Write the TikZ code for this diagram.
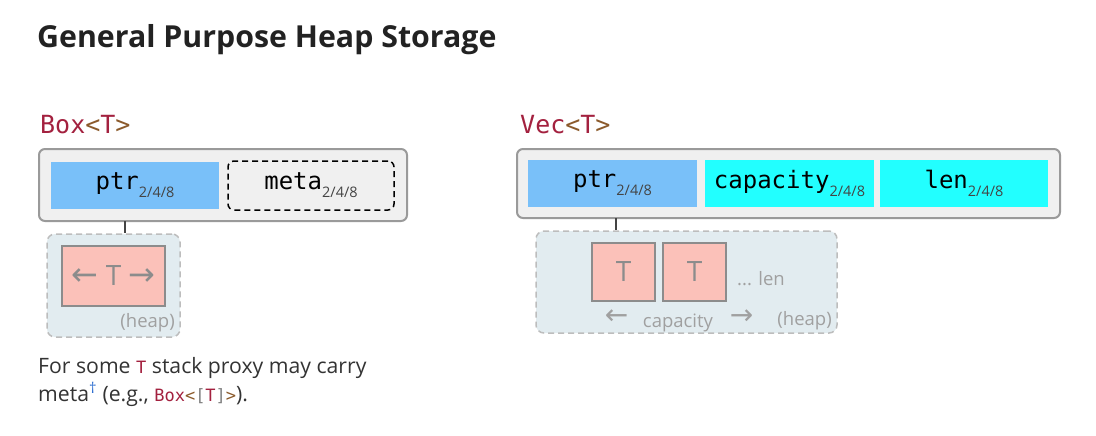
\documentclass[tikz,border=0pt]{standalone}
\usepackage{fontspec}
\setmainfont{Open Sans}
\setmonofont{DejaVu Sans Mono}
\newfontfamily\arrowfont{DejaVu Sans}
\usepackage{tikz}
\usetikzlibrary{positioning}
\definecolor{typered}{HTML}{A3213F}
\definecolor{typebrown}{HTML}{8B5A2B}
\definecolor{framegray}{HTML}{9A9A9A}
\definecolor{cellgray}{HTML}{F0F0F0}
\definecolor{ptrblue}{HTML}{79C0F9}
\definecolor{intcyan}{HTML}{22FFFF}
\definecolor{heapfill}{HTML}{E2ECF0}
\definecolor{heapedge}{HTML}{BDBDBD}
\definecolor{elemfill}{HTML}{FBC1B9}
\definecolor{elemedge}{HTML}{8C8C8C}
\definecolor{notegray}{HTML}{A0A0A0}
\definecolor{subgray}{HTML}{444444}
\definecolor{bodygray}{HTML}{333333}
\definecolor{titlegray}{HTML}{222222}
\definecolor{daggerblue}{HTML}{2F6FD0}
\newcommand{\fieldlabel}[1]{{\fontsize{24}{24}\selectfont\ttfamily #1}\raisebox{-8pt}{\fontsize{14.5}{14.5}\selectfont\color{subgray}2/4/8}}
\newcommand{\typename}[1]{{\fontsize{25}{25}\selectfont\ttfamily\color{typered}#1\color{typebrown}<\color{typered}T\color{typebrown}>}}

\begin{document}
\begin{tikzpicture}[x=1pt,y=1pt,yscale=-1,xscale=1,
  outerbox/.style={draw=framegray,line width=2pt,fill=cellgray,rounded corners=6pt,inner sep=0pt},
  ptrcell/.style={fill=ptrblue,inner sep=0pt,minimum height=47pt},
  intcell/.style={fill=intcyan,inner sep=0pt,minimum height=47pt},
  heapbox/.style={draw=heapedge,dash pattern=on 6pt off 4pt,line width=1.5pt,fill=heapfill,rounded corners=8pt,inner sep=0pt},
  elembox/.style={draw=elemedge,line width=2pt,fill=elemfill,inner sep=0pt,text=elemedge,font=\fontsize{28}{28}\selectfont},
  heapnote/.style={text=notegray,font=\fontsize{18.5}{18.5}\selectfont,inner sep=0pt},
  link/.style={draw=subgray,line width=1.2pt}]
  \useasboundingbox (0,0) rectangle (1096,436);

  % Title
  \node[anchor=base west,inner sep=0pt,text=titlegray] (title) at (37,48) {\fontsize{30.3}{30.3}\selectfont\bfseries General Purpose Heap Storage};

  %Box<T>
  \node[anchor=base west,inner sep=0pt] (boxname) at (40,133) {\typename{Box}};
  \node[outerbox,minimum width=368pt,minimum height=72pt] (boxouter) at (223,185) {};
  \node[ptrcell,minimum width=168pt] (boxptr) at (135,185) {\fieldlabel{ptr}};
  \node[draw=black,dash pattern=on 6pt off 4pt,line width=1.5pt,rounded corners=6pt,minimum width=166pt,minimum height=49pt,inner sep=0pt] (boxmeta) at (311,185.5) {\fieldlabel{meta}};
  % heap of Box
  \node[heapbox,minimum width=133pt,minimum height=103pt] (boxheap) at (113.5,285.5) {};
  \node[elembox,minimum width=103pt,minimum height=60pt] (boxelem) at (113.5,276) {{\arrowfont\fontsize{32}{32}\selectfont ←}\hspace{7pt}T\hspace{7pt}{\arrowfont\fontsize{32}{32}\selectfont →}};
  \node[heapnote,anchor=base east] (boxnote) at (175,327) {(heap)};
  \coordinate (boxlink) at (125,221);
  \draw[link] (boxlink) -- (boxlink |- boxheap.north);

  % footnote text
  \node[anchor=base west,inner sep=0pt,text=bodygray,font=\fontsize{21.2}{21.2}\selectfont] (boxtext1) at (38,373) {For some {\ttfamily\fontsize{17}{17}\selectfont\color{typered}T} stack proxy may carry};
  \node[anchor=base west,inner sep=0pt,text=bodygray,font=\fontsize{21.2}{21.2}\selectfont] (boxtext2) at (38,401) {meta\textsuperscript{\color{daggerblue}†} (e.g., {\ttfamily\fontsize{17}{17}\selectfont\color{typered}Box\color{typebrown}<\color{gray}[\color{typered}T\color{gray}]\color{typebrown}>}).};

  %Vec<T>
  \node[anchor=base west,inner sep=0pt] (vecname) at (520,133) {\typename{Vec}};
  \node[outerbox,minimum width=543pt,minimum height=69pt] (vecouter) at (788.5,183.5) {};
  \node[ptrcell,minimum width=169pt] (vecptr) at (612.5,183.5) {\fieldlabel{ptr}};
  \node[intcell,minimum width=169pt] (veccap) at (789.5,183.5) {\fieldlabel{capacity}};
  \node[intcell,minimum width=168pt] (veclen) at (964,183.5) {\fieldlabel{len}};
  % heap of Vec
  \node[heapbox,minimum width=301pt,minimum height=102pt] (vecheap) at (686.5,282) {};
  \node[elembox,minimum width=63pt,minimum height=58pt] (vecelemA) at (623.5,272) {T};
  \node[elembox,minimum width=63pt,minimum height=58pt] (vecelemB) at (694.5,272) {T};
  \node[heapnote,anchor=base west] (veclennote) at (737,285) {... len};
  \node[heapnote,anchor=base] (veccapnote) at (678,327) {capacity};
  \node[heapnote,font=\arrowfont\fontsize{28}{28}\selectfont] (vecleft) at (616.5,317) {←};
  \node[heapnote,font=\arrowfont\fontsize{28}{28}\selectfont] (vecright) at (741.5,317) {→};
  \node[heapnote,anchor=base east] (vecnote) at (832,325) {(heap)};
  \coordinate (veclink) at (616,218);
  \draw[link] (veclink) -- (veclink |- vecheap.north);
\end{tikzpicture}
\end{document}
